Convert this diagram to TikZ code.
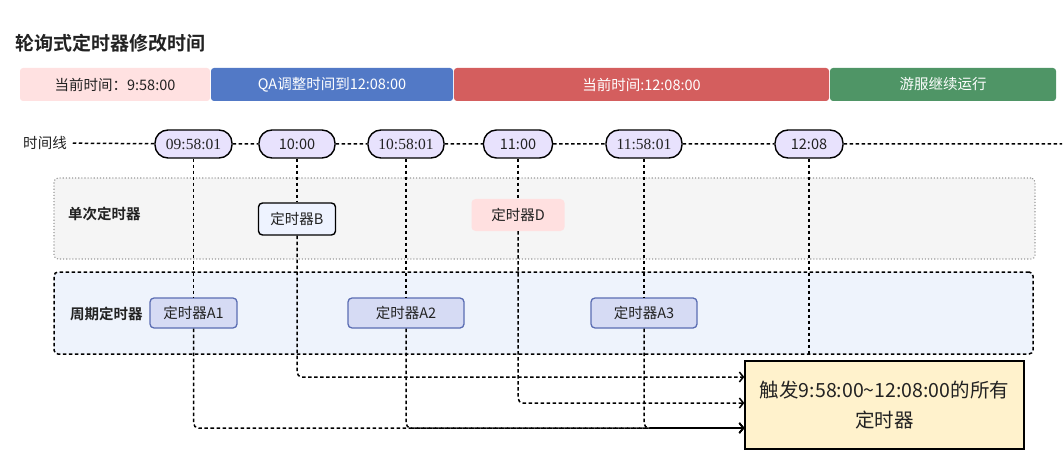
\documentclass[tikz,border=0pt]{standalone}
\usepackage{fontspec}
\setmainfont{Noto Sans CJK SC}[BoldFont={Noto Sans CJK SC Bold}]
\newfontfamily\numserif{Liberation Serif}
\usetikzlibrary{arrows.meta,positioning}
\definecolor{barpink}{HTML}{FFE1E1}
\definecolor{barblue}{HTML}{5279C6}
\definecolor{barred}{HTML}{D45E5E}
\definecolor{bargreen}{HTML}{4F9566}
\definecolor{pillfill}{HTML}{E8E2FD}
\definecolor{onceFill}{HTML}{F5F5F5}
\definecolor{cycleFill}{HTML}{EEF3FC}
\definecolor{bFill}{HTML}{EEF3FF}
\definecolor{dFill}{HTML}{FFE0E0}
\definecolor{aFill}{HTML}{D6DBF4}
\definecolor{aLine}{HTML}{5B6DB3}
\definecolor{hitFill}{HTML}{FFF2CC}
\definecolor{ink}{HTML}{222222}
\tikzset{
  txt/.style={font=\fontsize{14.5}{17}\selectfont, text=ink},
  bar/.style={txt, rounded corners=3pt, minimum height=33pt, inner sep=0pt},
  pill/.style={txt, draw=black, line width=1.4pt, fill=pillfill, rounded corners=13pt,
    minimum height=28pt, inner sep=0pt},
  lane/.style={rounded corners=4pt, inner sep=0pt},
  timer/.style={txt, rounded corners=4pt, minimum height=31pt, inner sep=0pt},
  atimer/.style={timer, draw=aLine, line width=1.3pt, fill=aFill, minimum height=30pt},
  tline/.style={line width=1.5pt, dash pattern=on 3.5pt off 2.5pt},
  flow/.style={tline, rounded corners=5pt, -{Straight Barb[length=4pt,width=10pt]}}
}
\begin{document}
\begin{tikzpicture}[x=1pt,y=-1pt]
\useasboundingbox (0,0) rectangle (1064,470);
\node[anchor=west, inner sep=0pt, font=\bfseries\fontsize{19}{22}\selectfont, text=ink] (title) at (15,43) {轮询式定时器修改时间};

\node[bar, fill=barpink, minimum width=190pt] (now) at (115,84.5) {当前时间：9:58:00};
\node[bar, fill=barblue, text=white, minimum width=242pt] (qa) at (332,84.5) {QA调整时间到12:08:00};
\node[bar, fill=barred, text=white, minimum width=375pt] (later) at (641.5,84.5) {当前时间:12:08:00};
\node[bar, fill=bargreen, text=white, minimum width=226pt] (run) at (943,84.5) {游服继续运行};

\node[lane, draw=gray!80, dotted, line width=1.1pt, fill=onceFill, minimum width=981pt, minimum height=81pt] (once) at (544.5,218.5) {};
\node[lane, draw=black, tline, fill=cycleFill, minimum width=979pt, minimum height=82pt] (cycle) at (543.5,313) {};
\node[anchor=west, inner sep=0pt, txt, font=\bfseries\fontsize{14.5}{17}\selectfont] (onceLbl) at (68,214) {单次定时器};
\node[anchor=west, inner sep=0pt, txt, font=\bfseries\fontsize{14.5}{17}\selectfont] (cycleLbl) at (70,314) {周期定时器};

\node[txt, inner sep=0pt, outer sep=6pt] (tl) at (45,143) {时间线};
\node[pill, minimum width=77pt] (t1) at (193.5,144) {\numserif\fontsize{15.5}{17}\selectfont 09:58:01};
\node[pill, minimum width=76pt] (t2) at (297,144) {10:00};
\node[pill, minimum width=76pt] (t3) at (406,144) {\numserif\fontsize{15.5}{17}\selectfont 10:58:01};
\node[pill, minimum width=69pt] (t4) at (518,144) {11:00};
\node[pill, minimum width=76pt] (t5) at (644,144) {\numserif\fontsize{15.5}{17}\selectfont 11:58:01};
\node[pill, minimum width=68pt] (t6) at (809,144) {12:08};
\coordinate (tEnd) at (1062,144);
\coordinate (t6End) at (809,356);

\node[timer, draw=black, line width=1.4pt, fill=bFill, minimum width=77pt, minimum height=32pt] (B) at (297,219) {定时器B};
\node[timer, fill=dFill, minimum width=93pt, minimum height=32pt] (D) at (518,215) {定时器D};
\node[atimer, minimum width=87pt] (A1) at (193.5,313) {定时器A1};
\node[atimer, minimum width=116pt] (A2) at (406,313) {定时器A2};
\node[atimer, minimum width=106pt] (A3) at (644,313) {定时器A3};

\node[draw=black, line width=1.4pt, fill=hitFill, minimum width=279pt, minimum height=88pt,
  align=center, font=\fontsize{19.5}{30}\selectfont, text=ink, inner sep=0pt] (hit) at (884.5,405)
  {触发9:58:00\textasciitilde12:08:00的所有\\定时器};

\draw[tline] (tl) -- (t1) -- (t2) -- (t3) -- (t4) -- (t5) -- (t6) -- (tEnd);
\draw[tline] (t1) -- (A1);
\draw[tline] (t2) -- (B);
\draw[tline] (t3) -- (A2);
\draw[tline] (t4) -- (D);
\draw[tline] (t5) -- (A3);
\draw[tline] (t6) -- (t6End);

\draw[flow] (B) |- ([yshift=28pt]hit.west);
\draw[flow] (D) |- ([yshift=2pt]hit.west);
\draw[flow] (A1) |- ([yshift=-23pt]hit.west);
\draw[flow] (A2) |- ([yshift=-23pt]hit.west);
\draw[flow] (A3) |- ([yshift=-23pt]hit.west);
\draw[line width=1.5pt, -{Straight Barb[length=4pt,width=10pt]}] ([xshift=6pt,yshift=-23pt]hit.west -| A3) -- ([yshift=-23pt]hit.west);
\end{tikzpicture}
\end{document}
